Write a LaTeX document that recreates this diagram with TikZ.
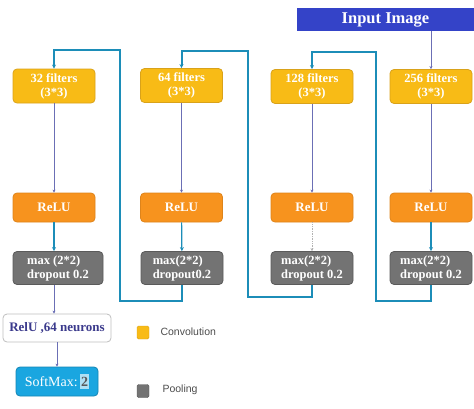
\documentclass[tikz,border=0pt]{standalone}
\usepackage{fontspec}
\setmainfont{Liberation Serif}
\newfontfamily\legendfont{Liberation Sans}
\usepackage{tikz}
\usetikzlibrary{arrows.meta,positioning,calc}
\definecolor{clConv}{HTML}{F8BB16}
\definecolor{clConvEdge}{HTML}{D9A21A}
\definecolor{clRelu}{HTML}{F7931E}
\definecolor{clPool}{HTML}{737373}
\definecolor{clPoolEdge}{HTML}{5A5A5A}
\definecolor{clInput}{HTML}{3443C8}
\definecolor{clLoop}{HTML}{1C8DB8}
\definecolor{clThin}{HTML}{6B6FB5}
\definecolor{clSoft}{HTML}{1AA6E0}
\definecolor{clDense}{HTML}{3B3A8C}
\tikzset{
  box/.style={rectangle, rounded corners=4pt, draw, thick, align=center,
              inner sep=0pt, minimum width=82pt, font=\bfseries\fontsize{12.5}{14}\selectfont, text=white},
  conv/.style={box, draw=clConvEdge, fill=clConv, minimum height=34pt},
  relu/.style={box, draw=clRelu!90!black, fill=clRelu, minimum height=29pt, font=\bfseries\fontsize{13}{14}\selectfont},
  pool/.style={box, draw=clPoolEdge, fill=clPool, minimum height=33pt, align=left},
  inbox/.style={rectangle, fill=clInput, text=white, minimum width=177pt, minimum height=23pt,
                inner sep=0pt, font=\bfseries\fontsize{16.5}{17}\selectfont},
  dense/.style={box, draw=black!25, fill=white, text=clDense, minimum width=108pt, minimum height=28pt,
                font=\bfseries\fontsize{13}{14}\selectfont},
  soft/.style={box, draw=clSoft!80!black, fill=clSoft, minimum height=29pt,
               font=\fontsize{14}{15}\selectfont},
  key/.style={rectangle, rounded corners=1.5pt, draw, minimum width=12pt, minimum height=13pt, inner sep=0pt},
  keylabel/.style={anchor=west, font=\legendfont\fontsize{10.5}{12}\selectfont, text=black!70},
  flow/.style={-{Stealth[length=3pt,width=3pt]}, draw=clThin, line width=0.7pt},
  loop/.style={-{Stealth[length=4pt,width=4pt]}, draw=clLoop, line width=2pt},
}
\begin{document}
\begin{tikzpicture}[x=1pt, y=1pt]
  \useasboundingbox (0,0) rectangle (474,-408);
  % input
  \node[inbox] (in) at (385.5,-19.5) {Input Image};
  % conv blocks
  \node[conv] (c1) at (54,-86) {32 filters\\(3*3)};
  \node[conv] (c2) at (181.5,-85.5) {64 filters\\(3*3)};
  \node[conv] (c3) at (312,-86.5) {128 filters\\(3*3)};
  \node[conv] (c4) at (431,-86.5) {256 filters\\(3*3)};
  % activations
  \node[relu] (r1) at (54,-207.5) {ReLU};
  \node[relu] (r2) at (181.5,-207.5) {ReLU};
  \node[relu] (r3) at (312,-207.5) {ReLU};
  \node[relu] (r4) at (431,-207.5) {ReLU};
  % pooling
  \node[pool, minimum width=90pt] (p1) at (58,-268) {max (2*2)\\dropout 0.2};
  \node[pool] (p2) at (182,-268) {max(2*2)\\dropout0.2};
  \node[pool] (p3) at (312,-268) {max(2*2)\\dropout 0.2};
  \node[pool] (p4) at (431,-268) {max(2*2)\\dropout 0.2};
  % head
  \node[dense] (fc) at (57,-328) {RelU ,64 neurons};
  \node[soft] (sm) at (57,-381.5) {SoftMax:\,\colorbox{clSoft!35}{\kern-2pt\textcolor{black!65}{\bfseries 2}\kern-2pt}};
  % legend
  \node[key, draw=clConvEdge, fill=clConv] (kc) at (143,-332.5) {};
  \node[keylabel] (kcl) at (157,-332) {Convolution};
  \node[key, draw=clPoolEdge, fill=clPool] (kp) at (143,-391) {};
  \node[keylabel] (kpl) at (159,-390) {Pooling};

  \draw[flow] (in.south -| c4) -- (c4);
  \foreach \i in {1,...,4} {
    \draw[flow] (c\i) -- (r\i);
  }
  \draw[loop, line width=1.6pt] (r1) -- (p1.north -| r1);
  \draw[loop, line width=1.2pt] (r2) -- (p2);
  \draw[flow, draw=black!30, densely dotted] (r3) -- (p3);
  \draw[loop, line width=1.6pt] (r4) -- (p4);
  % feedback into the next conv block
  \draw[loop] (p4.south) -- ++(0,-16) -| ++(-55,249) -| (c3.north);
  \draw[loop] (p3.south) -- ++(0,-12) -| ++(-64,246) -| (c2.north);
  \draw[loop] (p2.south) -- ++(0,-16) -| ++(-62.5,251) -| (c1.north);
  \draw[flow] (p1.south -| c1) -- (fc.north -| c1);
  \draw[flow] (fc) -- (sm);
\end{tikzpicture}
\end{document}
